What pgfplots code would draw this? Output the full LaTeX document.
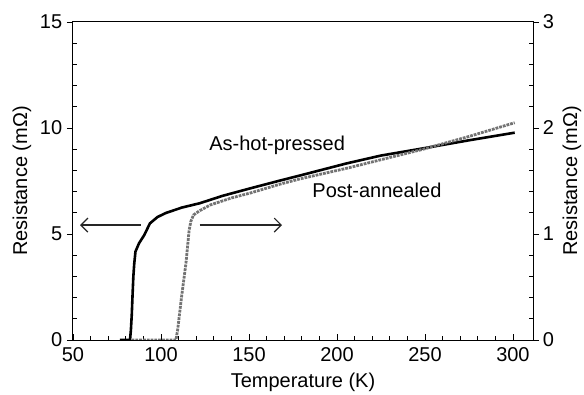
\documentclass[border=0pt]{standalone}
\usepackage{pgfplots}
\pgfplotsset{compat=1.18}
\usepackage{fontspec}
\setmainfont{Liberation Sans}
\usetikzlibrary{arrows.meta}
\newcommand{\ff}{\fontsize{20bp}{23bp}\selectfont}
\begin{document}
\ff
\begin{tikzpicture}
\useasboundingbox (-73bp,-55bp) rectangle (511bp,340bp);
\begin{axis}[
  at={(0,0)}, anchor=south west,
  width=460bp, height=318bp, scale only axis,
  xmin=50, xmax=311.4, ymin=0, ymax=15,
  xtick={50,100,150,200,250,300}, minor x tick num=4,
  ytick={0,5,10,15}, minor y tick num=4,
  xtick pos=bottom, ytick pos=left,
  tick align=inside,
  major tick length=6bp, minor tick length=4bp,
  major y tick style={xshift=-6bp},
  tick style={black, line width=0.8bp},
  axis line style={line width=1bp},
  /pgf/number format/assume math mode=true,
  tick label style={font=\ff},
  label style={font=\ff},
  yticklabel style={xshift=-4bp},
  xticklabel style={yshift=-1bp},
  xlabel={Temperature (K)},
  ylabel={Resistance (mΩ)},
  xlabel style={at={(axis description cs:0.5,0)}, anchor=center, yshift=-42bp},
  ylabel style={at={(axis description cs:0,0.5)}, anchor=center, yshift=51bp},
]
\addplot[black, line width=2.6bp] coordinates {
 (76.7,0) (82.4,0) (82.9,0.47) (83.4,1.2) (83.8,2.04) (84.3,3.0) (84.8,3.6)
 (85.5,4.17) (87.5,4.56) (90.5,4.95) (93.7,5.5) (98,5.8) (103,6.0) (112,6.25)
 (122,6.45) (135,6.8) (150.6,7.15) (167.6,7.52) (179,7.76) (205.5,8.33)
 (225,8.7) (249,9.04) (275,9.42) (301,9.78)
};
\node[font=\ff] at (axis cs:166,9.2) {As-hot-pressed};
\node[font=\ff] at (axis cs:222.7,7.07) {Post-annealed};
\draw[-{Straight Barb[length=7bp,width=14bp]}, line width=1.2bp, black!85] (axis cs:88.5,5.42) -- (axis cs:54,5.42);
\draw[-{Straight Barb[length=7bp,width=14bp]}, line width=1.2bp, black!85] (axis cs:122,5.42) -- (axis cs:168.8,5.42);
\end{axis}
\begin{axis}[
  at={(0,0)}, anchor=south west,
  width=460bp, height=318bp, scale only axis,
  xmin=50, xmax=311.4, ymin=0, ymax=3,
  axis x line=none, axis y line*=right,
  ytick={0,1,2,3}, minor y tick num=4,
  tick align=inside,
  major tick length=6bp, minor tick length=4bp,
  major y tick style={xshift=6bp},
  tick style={black, line width=0.8bp},
  axis line style={line width=1bp},
  /pgf/number format/assume math mode=true,
  tick label style={font=\ff},
  label style={font=\ff},
  yticklabel style={xshift=3bp},
  ylabel={Resistance (mΩ)},
  ylabel style={at={(axis description cs:1,0.5)}, anchor=center, yshift=-39bp},
]
\addplot[black!55, densely dotted, line width=2.8bp] coordinates {
 (83.3,0) (108.5,0) (109.5,0.1) (111.7,0.408) (114.2,0.726) (116,1.038)
 (117,1.12) (118.5,1.18) (122,1.22) (128,1.274) (140,1.34) (150.6,1.386)
 (167.6,1.47) (179,1.52) (205.5,1.62) (249,1.80) (275,1.92) (301,2.05)
};
\end{axis}
\end{tikzpicture}
\end{document}
